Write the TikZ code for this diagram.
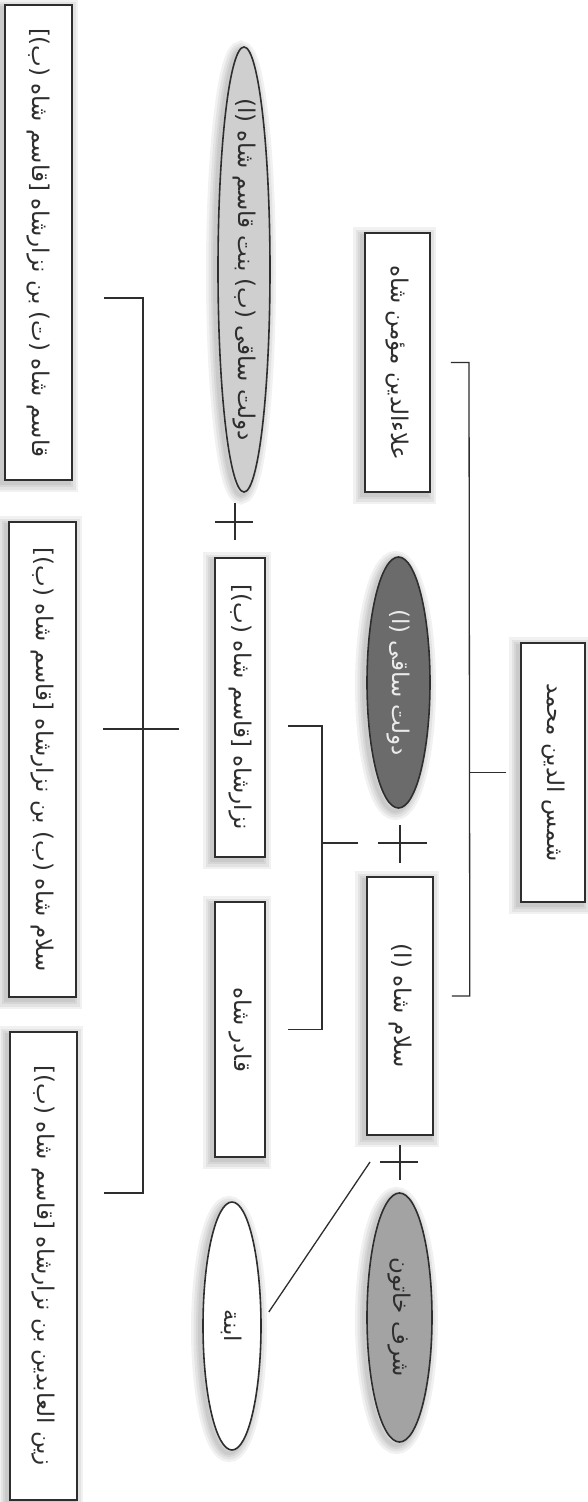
\documentclass[tikz,border=0pt]{standalone}
\usepackage{fontspec}
\usetikzlibrary{shapes.geometric}
\TeXXeTstate=1
\newfontfamily\farsi[Script=Arabic]{DejaVu Sans}
\definecolor{ink}{HTML}{2E2E2E}
\definecolor{darkoval}{HTML}{6B6B6B}
\definecolor{midoval}{HTML}{A3A3A3}
\definecolor{lightoval}{HTML}{CFCFCF}
% name set right to left, with no width of its own
\newcommand{\who}[1]{\makebox[0pt]{\farsi\beginR #1\endR}}

\begin{document}
\begin{tikzpicture}[x=1pt, y=-1pt,
  halo/.style={preaction={draw=black, opacity=.055, line width=#1,
                          transform canvas={shift={(-3pt,-3pt)}}}},
  person/.style={draw=ink, line width=1.6pt, rotate=-90, inner sep=0pt, text=ink,
                 font=\fontsize{23}{28}\selectfont,
                 halo=18pt, halo=13pt, halo=8pt, halo=4pt},
  box/.style={person, rectangle, fill=white},
  oval/.style={person, ellipse},
  link/.style={draw=ink, line width=1.3pt}
]
  \fill[white] (0,0) rectangle (588,1502);
  \useasboundingbox (0,0) rectangle (588,1502);

  % first generation
  \node[box, minimum width=259pt, minimum height=64pt] (root) at (553,772.5) {\who{شمس الدین محمد}};

  % second generation
  \node[box, minimum width=259pt, minimum height=65pt] (alaa) at (397.5,362.5) {\who{علاءالدین مؤمن شاه}};
  \node[oval, fill=darkoval, text=white!92!black, minimum width=251pt, minimum height=63pt] (dawlatA) at (398.5,682.5) {\who{دولت ساقی (ا)}};
  \node[box, minimum width=258pt, minimum height=66pt] (salamA) at (400,1006) {\who{سلام شاه (ا)}};
  \node[oval, fill=midoval, minimum width=249pt, minimum height=65pt] (sharaf) at (399.5,1317.5) {\who{شرف خاتون}};

  % third generation
  \node[oval, fill=lightoval, minimum width=445pt, minimum height=52pt] (dawlatB) at (244,269.5) {\who{دولت ساقی (ب) بنت قاسم شاه (ا)}};
  \node[box, minimum width=299pt, minimum height=50pt] (nizar) at (240,707.5) {\who{نزارشاه [قاسم شاه (ب)]}};
  \node[box, minimum width=255pt, minimum height=50pt] (qadir) at (240,1029.5) {\who{قادر شاه}};
  \node[oval, fill=white, minimum width=248pt, minimum height=58pt] (ibna) at (232,1326) {\who{ابنة}};

  % fourth generation
  \node[box, minimum width=475pt, minimum height=67pt] (qasim) at (38.5,242.5) {\who{قاسم شاه (ت) بن نزارشاه [قاسم شاه (ب)]}};
  \node[box, minimum width=475pt, minimum height=67pt] (salamB) at (42.5,759.5) {\who{سلام شاه (ب) بن نزارشاه [قاسم شاه (ب)]}};
  \node[box, minimum width=468pt, minimum height=67pt] (zayn) at (43.5,1266) {\who{زین العابدین بن نزارشاه [قاسم شاه (ب)]}};

  % marriages
  \coordinate (m1) at (400,843);
  \coordinate (m2) at (400,1162);
  \coordinate (m3) at (235,522);
  \draw[link] (m1) ++(-22,0) -- ++(49,0) (m1) ++(0,-18) -- ++(0,38);
  \draw[link] (m2) ++(-20,0) -- ++(38,0) (m2) ++(0,-17) -- ++(0,35);
  \draw[link] (m3) ++(-20,0) -- ++(38,0) (m3) ++(0,-19) -- ++(0,37);

  % brackets
  \coordinate (j1) at (469,772.5);
  \coordinate (j1top) at (469,362.5);
  \coordinate (k1) at (322,843);
  \coordinate (k1top) at (322,726);
  \coordinate (k1bot) at (322,1029.5);
  \coordinate (k3top) at (143,298);
  \coordinate (k3bot) at (143,1193);

  \draw[link] ([xshift=-14pt]root.south) -- (j1);
  \draw[link] ([xshift=20pt]alaa.north) -- (j1top) -- ([xshift=36pt,yshift=10pt]salamA.north) -- ([xshift=18pt,yshift=10pt]salamA.north);
  \draw[link] ([xshift=-42pt]m1) -- (k1);
  \draw[link] ([xshift=22pt,yshift=-18.5pt]nizar.north) -- (k1top) -- (k1bot) -- ([xshift=22pt]qadir.north);
  \draw[link] ([xshift=-30pt]m2) -- ([xshift=7pt,yshift=14pt]ibna.north);
  \draw[link] ([xshift=-35pt,yshift=-21.5pt]nizar.south) -- ([xshift=26pt,yshift=30.5pt]salamB.north);
  \draw[link] ([xshift=31pt,yshift=-55.5pt]qasim.north) -- (k3top) -- (k3bot) -- ([xshift=26pt,yshift=73pt]zayn.north);
\end{tikzpicture}
\end{document}
